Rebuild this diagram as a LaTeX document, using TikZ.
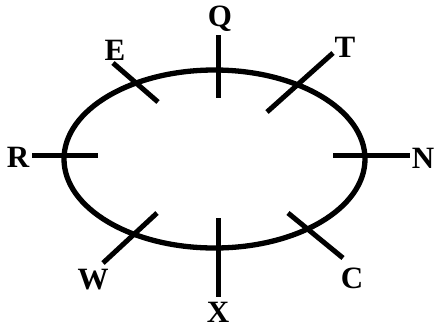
\documentclass[tikz,border=0pt]{standalone}
\usepackage{fontspec}
\setmainfont{Liberation Serif}
\begin{document}
\begin{tikzpicture}[x=1pt,y=-1pt,
  lbl/.style={font=\fontsize{31}{31}\selectfont\bfseries, inner sep=0pt, anchor=center},
  tick/.style={line width=5pt},
  ring/.style={line width=5.3pt}]
\useasboundingbox (0,0) rectangle (438,330);
\draw[ring] (214.5,159) ellipse [x radius=150.5, y radius=89];
% ticks
\coordinate (q1) at (218,35);  \coordinate (q2) at (218,98);
\coordinate (x1) at (218,218); \coordinate (x2) at (218,297);
\coordinate (r1) at (32,155);  \coordinate (r2) at (98,155);
\coordinate (n1) at (333,155); \coordinate (n2) at (410,155);
\coordinate (e1) at (113,63);  \coordinate (e2) at (158,102);
\coordinate (t1) at (333,53);  \coordinate (t2) at (267,112);
\coordinate (w1) at (103,263); \coordinate (w2) at (157,213);
\coordinate (c1) at (288,213); \coordinate (c2) at (343,258);
\draw[tick] (q1) -- (q2);
\draw[tick] (x1) -- (x2);
\draw[tick] (r1) -- (r2);
\draw[tick] (n1) -- (n2);
\draw[tick] (e1) -- (e2);
\draw[tick] (t1) -- (t2);
\draw[tick] (w1) -- (w2);
\draw[tick] (c1) -- (c2);
% labels
\node[lbl] (Q) at (220,19) {Q};
\node[lbl] (E) at (115,50) {E};
\node[lbl] (T) at (345,47) {T};
\node[lbl] (R) at (18,157) {R};
\node[lbl] (N) at (423,158) {N};
\node[lbl] (W) at (93,280) {W};
\node[lbl] (X) at (218,312) {X};
\node[lbl] (C) at (352,278) {C};
\end{tikzpicture}
\end{document}
